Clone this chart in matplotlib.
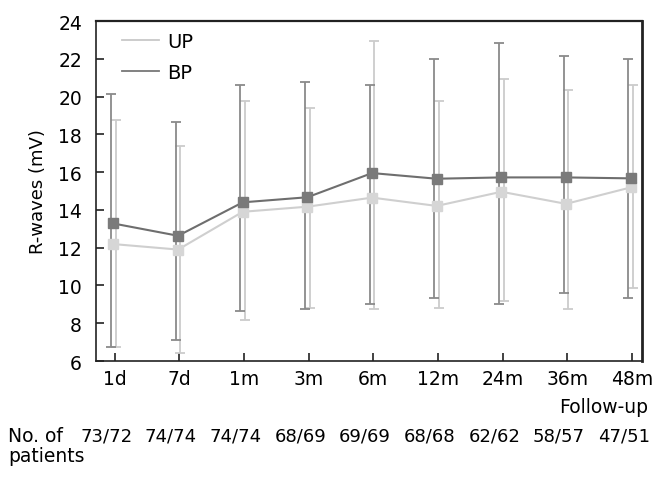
import matplotlib
matplotlib.use("Agg")
import matplotlib.pyplot as plt
import matplotlib.transforms as mtransforms
from matplotlib.lines import Line2D
import numpy as np

plt.rcParams['font.family'] = ['DejaVu Sans']

categories = ["1d", "7d", "1m", "3m", "6m", "12m", "24m", "36m", "48m"]
patients = ["73/72", "74/74", "74/74", "68/69", "69/69", "68/68", "62/62", "58/57", "47/51"]

bp_mean = [13.28, 12.63, 14.40, 14.67, 15.95, 15.65, 15.72, 15.72, 15.67]
bp_upper = [20.15, 18.65, 20.60, 20.77, 20.63, 21.99, 22.85, 22.13, 21.99]
bp_lower = [6.76, 7.13, 8.65, 8.75, 9.02, 9.32, 9.02, 9.58, 9.34]

up_mean = [12.19, 11.90, 13.90, 14.17, 14.65, 14.21, 14.96, 14.32, 15.19]
up_upper = [18.74, 17.38, 19.75, 19.38, 22.96, 19.78, 20.93, 20.33, 20.60]
up_lower = [6.72, 6.42, 8.15, 8.80, 8.77, 8.80, 9.16, 8.74, 9.88]

fig = plt.figure(figsize=(6.52, 4.85), dpi=100)
ax = fig.add_axes([0.1472, 0.2536, 0.8370, 0.7010])

x = np.arange(len(categories))
bp_col = "#6e6e6e"
bp_err = "#8a8a8a"
up_col = "#cfcfcf"
up_err = "#cccccc"

bm = np.array(bp_mean); um = np.array(up_mean)
bp_yerr = [bm - np.array(bp_lower), np.array(bp_upper) - bm]
up_yerr = [um - np.array(up_lower), np.array(up_upper) - um]

ax.errorbar(x + 0.015, um, yerr=up_yerr, fmt='none', ecolor=up_err,
            elinewidth=1.3, capsize=3.5, capthick=1.3, zorder=2)
ax.errorbar(x - 0.055, bm, yerr=bp_yerr, fmt='none', ecolor=bp_err,
            elinewidth=1.3, capsize=3.5, capthick=1.3, zorder=3)

ax.plot(x - 0.02, um, color=up_col, lw=1.5, marker='s', ms=6.5,
        markerfacecolor="#d6d6d6", markeredgecolor="#d6d6d6", zorder=4)
ax.plot(x - 0.02, bm, color=bp_col, lw=1.5, marker='s', ms=6.5,
        markerfacecolor="#7a7a7a", markeredgecolor="#7a7a7a", zorder=5)

ax.set_xlim(-0.29, 8.15)
ax.set_ylim(6, 24)
ax.set_yticks(np.arange(6, 25, 2))
ax.set_xticks(x)
ax.set_xticklabels(categories)
ax.tick_params(axis='both', direction='in', labelsize=13.5, length=6,
               width=1.2, color="#222222", top=False, right=False)
ax.tick_params(axis='x', pad=6)
ax.tick_params(axis='y', pad=10)
for s in ax.spines.values():
    s.set_color("#222222")
    s.set_linewidth(1.2)
ax.spines['right'].set_linewidth(2.0)
ax.spines['top'].set_linewidth(1.6)

ax.set_ylabel("R-waves (mV)", fontsize=13, labelpad=8)

handles = [Line2D([], [], color="#c8c8c8", lw=1.3),
           Line2D([], [], color="#777777", lw=1.3)]
ax.legend(handles=handles, labels=["UP", "BP"],
          loc='upper left', frameon=False, fontsize=14,
          handlelength=1.9, handletextpad=0.45, labelspacing=0.62,
          borderaxespad=0.0, bbox_to_anchor=(0.033, 0.99))

fig.text(648/652, 1 - 408/485, "Follow-up", ha='right', va='center', fontsize=13.5)

trans = mtransforms.blended_transform_factory(ax.transData, fig.transFigure)
for xi, p in zip(x, patients):
    ax.text(xi - 0.13, 1 - 437/485, p, transform=trans, ha='center', va='center',
            fontsize=13, clip_on=False)
fig.text(8/652, 1 - 437/485, "No. of", ha='left', va='center', fontsize=13.5)
fig.text(8/652, 1 - 457/485, "patients", ha='left', va='center', fontsize=13.5)

fig.savefig("out.png", dpi=100)
